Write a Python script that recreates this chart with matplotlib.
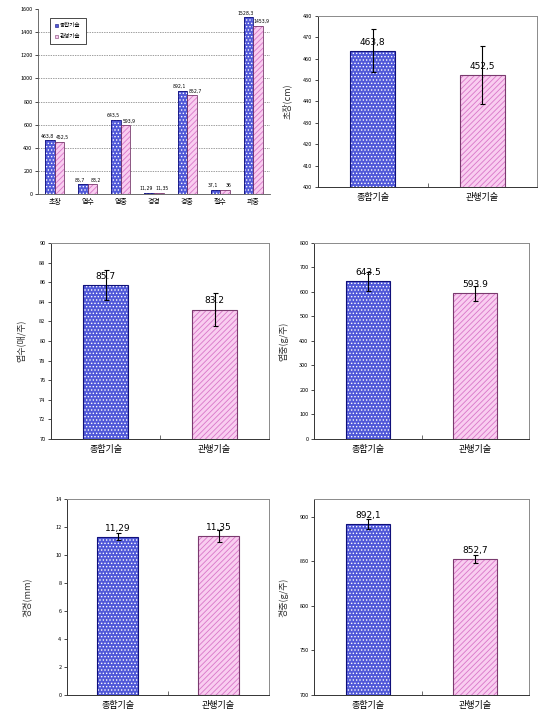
import matplotlib
matplotlib.use("Agg")
import matplotlib.pyplot as plt
import numpy as np

plt.rcParams['font.family'] = ['Noto Sans CJK KR', 'DejaVu Sans']
plt.rcParams['hatch.linewidth'] = 0.6

# data
groups = ['종합기술', '관행기술']
summary_cats = ['초장', '엽수', '엽중', '경경', '경중', '절수', '과중']
summary_comb = [463.8, 85.7, 643.5, 11.29, 892.1, 37.1, 1528.3]
summary_conv = [452.5, 83.2, 593.9, 11.35, 852.7, 36, 1453.9]

length_vals = [463.8, 452.5]
length_err = [10.0, 13.5]
leaves_vals = [85.7, 83.2]
leaves_err = [1.5, 1.7]
leafwt_vals = [643.5, 593.9]
leafwt_err = [40.0, 32.0]
stemdia_vals = [11.29, 11.35]
stemdia_err = [0.25, 0.45]
stemwt_vals = [892.1, 852.7]
stemwt_err = [6.0, 5.0]

W, H = 540, 715
fig = plt.figure(figsize=(W / 100, H / 100), dpi=100)

BLUE_FACE = '#5058d8'
BLUE_EDGE = '#10107a'
PINK_FACE = '#f9cdf0'
PINK_HATCH = '#d877c8'
PINK_EDGE = '#7a3a6e'


def px_axes(l, t, r, b):
    return fig.add_axes([l / W, 1 - b / H, (r - l) / W, (b - t) / H])


def fmt(v, sep):
    s = f"{v:g}"
    return s.replace('.', sep)


def draw_bars(ax, x, vals, width, kind, lw=0.8):
    if kind == 'blue':
        ax.bar(x, vals, width, color=BLUE_FACE, edgecolor='white', hatch='.....', linewidth=0, zorder=2)
        ax.bar(x, vals, width, fill=False, edgecolor=BLUE_EDGE, linewidth=lw, zorder=3)
    else:
        ax.bar(x, vals, width, color=PINK_FACE, edgecolor=PINK_HATCH, hatch='//////', linewidth=0, zorder=2)
        ax.bar(x, vals, width, fill=False, edgecolor=PINK_EDGE, linewidth=lw, zorder=3)


def small_chart(box, vals, errs, ylim, ystep, ylabel, sep, labelx):
    ax = px_axes(*box)
    x = np.arange(len(groups))
    draw_bars(ax, x[:1], vals[:1], 0.41, 'blue')
    draw_bars(ax, x[1:], vals[1:], 0.41, 'pink')
    ax.errorbar(x, vals, yerr=errs, fmt='none', ecolor='black', elinewidth=0.8, capsize=1.8, capthick=0.8, zorder=4)
    span = ylim[1] - ylim[0]
    for xi, v in zip(x, vals):
        ax.text(xi, v + span * 0.022, fmt(v, sep), ha='center', va='bottom', fontsize=6.5, family='DejaVu Sans', zorder=5)
    ax.set_xlim(-0.5, 1.5)
    ax.set_ylim(*ylim)
    ticks = np.arange(ylim[0], ylim[1] + 0.001, ystep)
    ax.set_yticks(ticks)
    ax.set_yticklabels([f"{t:g}" for t in ticks], fontsize=4)
    ax.set_xticks(x)
    ax.set_xticklabels(groups, fontsize=6.5)
    ax.set_xticks([0.5], minor=True)
    ax.tick_params(axis='x', which='major', length=0, pad=4)
    ax.tick_params(axis='x', which='minor', length=3, direction='in', width=0.6, color='#555555')
    ax.tick_params(axis='y', length=2, width=0.5, pad=2)
    for s in ax.spines.values():
        s.set_color('#8a8a8a')
        s.set_linewidth(0.7)
    ax.spines['bottom'].set_color('#333333')
    ax.spines['left'].set_color('#333333')
    ax.text(labelx, 0.5, ylabel, transform=ax.transAxes, rotation=90, ha='center', va='center', fontsize=6.5, color='#333333')
    return ax


# summary chart
ax1 = px_axes(38, 9, 270, 194)
xc = np.arange(len(summary_cats))
bw = 0.29
draw_bars(ax1, xc - bw / 2, summary_comb, bw, 'blue', lw=0.6)
draw_bars(ax1, xc + bw / 2, summary_conv, bw, 'pink', lw=0.6)
for xi, a, b in zip(xc, summary_comb, summary_conv):
    ax1.text(xi - bw / 2 - 0.08, a + 15, fmt(a, ','), ha='center', va='bottom', fontsize=3.3, family='DejaVu Sans', zorder=5)
    ax1.text(xi + bw / 2 + 0.1, b + 15, fmt(b, ','), ha='center', va='bottom', fontsize=3.3, family='DejaVu Sans', zorder=5)
ax1.set_xlim(-0.5, len(summary_cats) - 0.5)
ax1.set_ylim(0, 1600)
ax1.set_yticks(np.arange(0, 1601, 200))
ax1.set_yticklabels([str(t) for t in range(0, 1601, 200)], fontsize=4)
ax1.set_xticks(xc)
ax1.set_xticklabels(summary_cats, fontsize=5)
ax1.tick_params(axis='x', length=0, pad=3)
ax1.tick_params(axis='y', length=2, width=0.5, pad=2)
for t in range(200, 1401, 200):
    ax1.axhline(t, color='#777777', linestyle=(0, (2, 1.5)), linewidth=0.5, zorder=1)
ax1.spines['top'].set_visible(False)
ax1.spines['right'].set_visible(False)
ax1.spines['left'].set_color('#555555')
ax1.spines['bottom'].set_color('#555555')
ax1.spines['left'].set_linewidth(0.6)
ax1.spines['bottom'].set_linewidth(0.6)

leg = ax1.legend(handles=[plt.Rectangle((0, 0), 1, 1, facecolor=BLUE_FACE, edgecolor=BLUE_EDGE, linewidth=0.4),
                          plt.Rectangle((0, 0), 1, 1, facecolor=PINK_FACE, edgecolor=PINK_EDGE, linewidth=0.4)],
                 labels=groups, loc='upper left', bbox_to_anchor=(0.04, 0.965), fontsize=4,
                 handlelength=0.6, handleheight=0.6, handletextpad=0.3, labelspacing=1.1,
                 borderpad=0.9, fancybox=False, framealpha=1, edgecolor='black')
leg.get_frame().set_linewidth(0.5)

small_chart((318, 16, 537, 187), length_vals, length_err, (400, 480), 10, '초장(cm)', ',', -0.14)
small_chart((51, 243, 269, 439), leaves_vals, leaves_err, (70, 90), 2, '엽수(매/주)', '.', -0.14)
small_chart((314, 243, 529, 439), leafwt_vals, leafwt_err, (0, 800), 100, '엽중(g/주)', '.', -0.14)
small_chart((67, 499, 269, 695), stemdia_vals, stemdia_err, (0, 14), 2, '경경(mm)', ',', -0.2)
small_chart((314, 499, 529, 695), stemwt_vals, stemwt_err, (700, 920), 50, '경중(g/주)', ',', -0.14)

fig.savefig('out.png', dpi=100)
